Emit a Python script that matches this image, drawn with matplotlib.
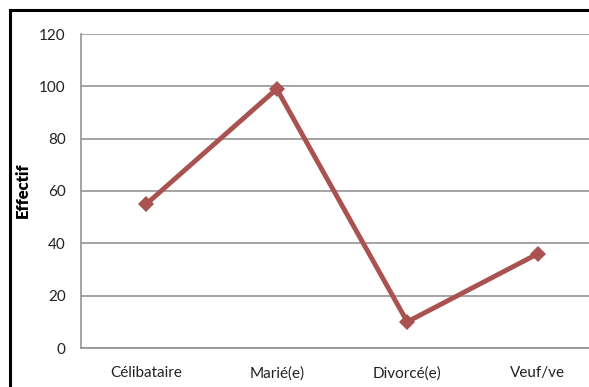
import matplotlib
matplotlib.use("Agg")
from matplotlib import pyplot as plt
from matplotlib.lines import Line2D

categories = ["Célibataire", "Marié(e)", "Divorcé(e)", "Veuf/ve"]
effectif = [55, 99, 10, 36]
yticks = [0, 20, 40, 60, 80, 100, 120]

plt.rcParams['font.family'] = ['Lato', 'DejaVu Sans']

fig = plt.figure(figsize=(5.89, 3.87), dpi=100)
W, H = 589, 387
# plot area runs past the right edge, like the cropped original
ax = fig.add_axes([81 / W, 1 - 348 / H, (603 - 81) / W, (348 - 34) / H])

x = list(range(len(categories)))
ax.plot(x, effectif, color='#A9524F', lw=3.5, marker='D', ms=8.5,
        markeredgewidth=0, solid_capstyle='round', zorder=3)

ax.set_xlim(-0.5, len(categories) - 0.5)
ax.set_ylim(0, 120)
ax.set_yticks(yticks)
ax.set_xticks(x)
ax.set_xticklabels(categories)
ax.tick_params(axis='both', length=0, labelsize=11, colors='#222222')
ax.tick_params(axis='y', pad=11)
ax.tick_params(axis='x', pad=13)
ax.grid(axis='y', color='#8c8c8c', lw=1.1)
ax.set_axisbelow(True)
for side in ('top', 'right'):
    ax.spines[side].set_visible(False)
for side in ('left', 'bottom'):
    ax.spines[side].set_color('#8c8c8c')
    ax.spines[side].set_linewidth(1.1)

fig.text(23 / W, 1 - 190 / H, "Effectif", rotation=90, ha='center', va='center',
         fontsize=12, fontweight='heavy', color='black')

# black frame round the chart (top and left edges)
fig.add_artist(Line2D([9.5 / W, 1.0], [1 - 10 / H, 1 - 10 / H], color='black', lw=2.2,
                      transform=fig.transFigure))
fig.add_artist(Line2D([9.5 / W, 9.5 / W], [0, 1 - 10 / H], color='black', lw=2.2,
                      transform=fig.transFigure))

fig.savefig("out.png", dpi=100)
